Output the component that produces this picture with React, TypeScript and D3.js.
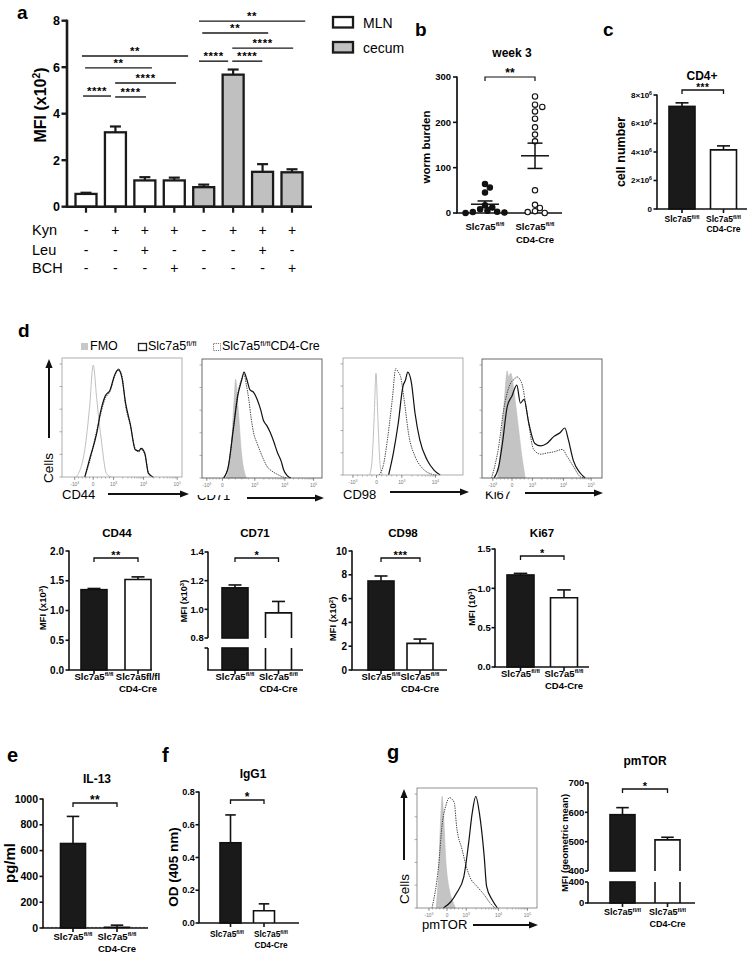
import React from 'react';
import * as d3 from 'd3';

const FONT = "Arial, 'Liberation Sans', Helvetica, sans-serif";

/* ---------------- panel a ---------------- */
const aTissue = ['MLN', 'MLN', 'MLN', 'MLN', 'cecum', 'cecum', 'cecum', 'cecum'];
const aMeans = [0.55, 3.2, 1.13, 1.13, 0.84, 5.68, 1.5, 1.48];
const aErrors = [0.05, 0.25, 0.14, 0.12, 0.11, 0.22, 0.33, 0.13];
const aKyn = ['-', '+', '+', '+', '-', '+', '+', '+'];
const aLeu = ['-', '-', '+', '-', '-', '-', '+', '-'];
const aBch = ['-', '-', '-', '+', '-', '-', '-', '+'];
const aTicks = [0, 2, 4, 6, 8];
const aSigFrom = [-0.1, 0.99, 0.99, -0.03, -0.14, 3.84, 4.97, 4.97, 3.95, 3.84];
const aSigTo = [0.85, 2.04, 3.06, 2.24, 3.47, 4.83, 5.99, 7.04, 6.19, 7.45];
const aSigLevel = [4.76, 4.72, 5.32, 5.97, 6.48, 6.26, 6.26, 6.82, 7.47, 7.98];
const aSigLabel = ['****', '****', '****', '**', '**', '****', '****', '****', '**', '**'];
const aLegend = ['MLN', 'cecum'];

/* ---------------- panel b ---------------- */
const bWT = [64, 56, 45, 17, 12, 8, 5, 3, 2, 1, 0];
const bKO = [257, 239, 234, 224, 208, 189, 173, 158, 50, 18, 11, 4, 2, 0];
const bTicks = [0, 100, 200, 300];

/* ---------------- panel c ---------------- */
const cMeans = [7.2, 4.15];
const cErrors = [0.25, 0.28];
const cTicks = [0, 2, 4, 6, 8];

/* ---------------- panel d bars ---------------- */
const cd44Means = [1.35, 1.52];
const cd44Errors = [0.02, 0.045];
const cd44Ticks = [0, 0.5, 1.0, 1.5, 2.0];
const cd71Means = [1.15, 0.975];
const cd71Errors = [0.02, 0.08];
const cd71Ticks = [0.8, 1.0, 1.2, 1.4];
const cd98Means = [7.48, 2.24];
const cd98Errors = [0.42, 0.36];
const cd98Ticks = [0, 2, 4, 6, 8, 10];
const ki67Means = [1.17, 0.88];
const ki67Errors = [0.02, 0.1];
const ki67Ticks = [0, 0.5, 1.0, 1.5];

/* ---------------- panels e, f, g ---------------- */
const eMeans = [655, 5];
const eErrors = [210, 17];
const eTicks = [0, 200, 400, 600, 800, 1000];
const eLimit = 5;
const fMeans = [0.49, 0.075];
const fErrors = [0.17, 0.042];
const fTicks = [0, 0.2, 0.4, 0.6, 0.8];
const gMeans = [592, 506];
const gErrors = [24, 9];
const gTicks = [400, 500, 600, 700];

/* ---------------- histograms: [channel, % of max] ---------------- */
const cd44FMO = [[12, 0], [19, 23], [23, 59], [26, 94], [29, 65], [33, 29], [37, 3], [41, 0]];
const cd44WT = [[19, 0], [23, 15], [29, 37], [32, 54], [36, 68], [40, 73], [44, 86], [47, 90], [50, 83], [53, 62], [57, 44], [61, 23], [64, 22], [66, 24], [69, 20], [72, 3], [76, 0]];
const cd44KO = [[19, 0], [23, 13], [28, 35], [32, 52], [36, 66], [40, 72], [44, 85], [47, 91], [50, 85], [53, 60], [57, 43], [61, 24], [64, 21], [66, 23], [69, 19], [72, 4], [76, 0]];
const cd44TickExp = [-3, 0, 3, 4, 5];
const cd44TickPos = [10.6, 26, 43, 68, 96];

const cd71FMO = [[20, 0], [24, 20], [27, 70], [28, 83], [30, 60], [33, 20], [37, 0]];
const cd71WT = [[18, 0], [22, 10], [26, 40], [30, 70], [33, 82], [35, 89], [37, 84], [40, 74], [43, 72], [46, 66], [49, 57], [51, 49], [54, 44], [57, 38], [60, 30], [63, 21], [66, 14], [68, 7], [71, 2], [74, 0]];
const cd71KO = [[18, 0], [22, 10], [26, 42], [30, 72], [33, 83], [35, 87], [37, 78], [39, 66], [41, 50], [43, 38], [46, 29], [49, 21], [52, 14], [54, 10], [58, 6], [63, 3], [67, 1], [71, 0]];
const cd71TickExp = [-3, 0, 3, 4, 5];
const cd71TickPos = [4, 17, 44, 69, 93];

const cd98FMO = [[22, 0], [24, 10], [26, 50], [27.5, 87], [29, 50], [31, 8], [33, 0]];
const cd98WT = [[38, 0], [42, 19], [46, 44], [50, 76], [52, 81], [54, 88], [57, 79], [60, 53], [64, 30], [70, 13], [76, 4], [81, 0]];
const cd98KO = [[30, 0], [34, 10], [37, 30], [41, 64], [44, 91], [46, 88], [48, 84], [51, 64], [55, 33], [60, 16], [66, 6], [73, 1], [78, 0]];
const cd98TickExp = [-3, 0, 3, 4];
const cd98TickPos = [8.3, 28, 49, 77];

const ki67FMO = [[13, 0], [16, 30], [19, 70], [21, 90], [22, 85], [24, 88], [27, 70], [30, 45], [33, 20], [36, 0]];
const ki67WT = [[10, 0], [14, 10], [17, 29], [21, 60], [25, 69], [29, 78], [32, 63], [35, 66], [39, 46], [44, 29], [49, 27], [54, 29], [60, 35], [65, 38], [69, 42], [72, 32], [76, 15], [82, 4], [86, 0]];
const ki67KO = [[8, 0], [14, 27], [18, 57], [24, 80], [27, 83], [29, 85], [33, 80], [38, 52], [43, 24], [49, 20], [54, 21], [60, 22], [67, 24], [71, 18], [76, 10], [82, 1], [85, 0]];
const ki67TickExp = [-3, 0, 3, 4, 5];
const ki67TickPos = [9, 25, 42, 68, 91];

const mtorFMO = [[16, 0], [18, 30], [20, 80], [21, 93], [22, 80], [24, 40], [27, 15], [30, 5], [32, 0]];
const mtorWT = [[22, 0], [28, 5], [33, 12.5], [39, 26], [43, 54], [46, 79], [49, 93], [52, 79], [56, 43], [58, 18], [62.5, 7], [67, 0]];
const mtorKO = [[12.5, 0], [18, 35], [21, 70], [24, 85], [27, 92], [31, 88], [33, 68], [37.5, 49], [41, 35], [44, 26], [50, 18], [56, 11], [61, 4], [65, 0]];
const mtorTickExp = [-3, 0, 3, 4, 5];
const mtorTickPos = [10, 25, 41, 68, 92];

/* ---------------- helpers ---------------- */
function Geno({ x, y, size, plain = false, cre = false, gap = 11 }: any) {
  return (
    <g>
      <text x={x} y={y} fontSize={size} fontWeight="bold" textAnchor="middle">
        {plain ? 'Slc7a5fl/fl' : (
          <>Slc7a5<tspan dy={-size * 0.38} fontSize={size * 0.62}>fl/fl</tspan></>
        )}
      </text>
      {cre && <text x={x} y={y + gap} fontSize={size} fontWeight="bold" textAnchor="middle">CD4-Cre</text>}
    </g>
  );
}

function Arrow({ x1, y1, x2, y2, w = 2, head = 9, hw = 3.6 }: any) {
  const dx = x2 - x1, dy = y2 - y1;
  const len = Math.hypot(dx, dy);
  const ux = dx / len, uy = dy / len;
  const bx = x2 - ux * head, by = y2 - uy * head;
  const px = -uy * hw, py = ux * hw;
  return (
    <g>
      <line x1={x1} y1={y1} x2={bx} y2={by} stroke="#111" strokeWidth={w} />
      <polygon points={`${x2},${y2} ${bx + px},${by + py} ${bx - px},${by - py}`} fill="#111" />
    </g>
  );
}

function RotLabel({ x, y, size, children, weight = 'bold' }: any) {
  return (
    <text transform={`translate(${x},${y}) rotate(-90)`} textAnchor="middle" fontSize={size} fontWeight={weight}>
      {children}
    </text>
  );
}

function TwoBar(p: any) {
  const y = d3.scaleLinear().domain(p.domain).range(p.range);
  const base = p.range[0];
  const bottom = p.brk ? p.brk.bottom : base;
  const sw = p.strokeW ?? 1.6;
  const capW = p.capW ?? p.barW * 0.25;
  const tl = p.tickLen ?? 3.5;
  const lx = p.axisX - tl - (p.tickGap ?? 1.5);
  const [c0, c1] = p.centers;
  const labX = p.labelX ?? p.centers;
  return (
    <g>
      {p.limit !== undefined && (
        <line x1={p.axisX} x2={p.xEnd} y1={y(p.limit)} y2={y(p.limit)} stroke="#999" strokeWidth={0.8} strokeDasharray="2,2" />
      )}
      {p.means.map((m: number, i: number) => {
        const c = p.centers[i];
        const x0 = c - p.barW / 2;
        const top = y(m);
        const filled = p.fills[i] !== 'white';
        const segs: number[][] = [[top, base]];
        if (p.brk) segs.push([p.brk.top, p.brk.bottom]);
        const et = y(m + p.errors[i]);
        return (
          <g key={i}>
            {segs.map(([t, b], k) =>
              filled ? (
                <rect key={k} x={x0} y={t} width={p.barW} height={b - t} fill={p.fills[i]} stroke="#111" strokeWidth={sw} />
              ) : (
                <path key={k} d={k === 0 ? `M${x0},${b}V${t}H${x0 + p.barW}V${b}` : `M${x0},${t}V${b}M${x0 + p.barW},${t}V${b}`} fill="white" stroke="#111" strokeWidth={sw} />
              )
            )}
            <line x1={c} x2={c} y1={top} y2={et} stroke="#111" strokeWidth={sw} />
            <line x1={c - capW} x2={c + capW} y1={et} y2={et} stroke="#111" strokeWidth={sw} />
            <line x1={c} x2={c} y1={bottom} y2={bottom + 4} stroke="#111" strokeWidth={sw} />
          </g>
        );
      })}
      {/* y axis */}
      <line x1={p.axisX} x2={p.axisX} y1={p.range[1] - 0.5} y2={base} stroke="#111" strokeWidth={sw} />
      {p.brk && <line x1={p.axisX} x2={p.axisX} y1={p.brk.top} y2={p.brk.bottom} stroke="#111" strokeWidth={sw} />}
      {p.ticks.map((t: number) => (
        <g key={t}>
          <line x1={p.axisX - tl} x2={p.axisX} y1={y(t)} y2={y(t)} stroke="#111" strokeWidth={sw} />
          <text x={lx} y={y(t)} dy="0.35em" textAnchor="end" fontSize={p.tickFont} fontWeight="bold">{p.fmt(t)}</text>
        </g>
      ))}
      {p.brk && (
        <g>
          <line x1={p.axisX - tl} x2={p.axisX} y1={p.brk.top} y2={p.brk.top} stroke="#111" strokeWidth={sw} />
          {p.brk.labelTop && <text x={lx} y={p.brk.top} dy="0.35em" textAnchor="end" fontSize={p.tickFont} fontWeight="bold">{p.brk.labelTop}</text>}
          {p.brk.labelBottom && (
            <g>
              <line x1={p.axisX - tl} x2={p.axisX} y1={p.brk.bottom} y2={p.brk.bottom} stroke="#111" strokeWidth={sw} />
              <text x={lx} y={p.brk.bottom} dy="0.35em" textAnchor="end" fontSize={p.tickFont} fontWeight="bold">{p.brk.labelBottom}</text>
            </g>
          )}
        </g>
      )}
      {/* x axis */}
      <line x1={p.axisX - 0.8} x2={p.xEnd} y1={bottom} y2={bottom} stroke="#111" strokeWidth={sw} />
      {/* bracket */}
      <path d={`M${c0},${p.bracketY + 4}V${p.bracketY}H${c1}V${p.bracketY + 4}`} fill="none" stroke="#111" strokeWidth={1.3} />
      <text x={(c0 + c1) / 2} y={p.bracketY + 1} textAnchor="middle" fontSize={p.starSize ?? 11} fontWeight="bold" letterSpacing={0.4}>{p.stars}</text>
      {/* title */}
      <text x={p.titleX} y={p.titleY} textAnchor="middle" fontSize={p.titleSize ?? 11.5} fontWeight="bold">{p.title}</text>
      <RotLabel x={p.ylabelX} y={p.ylabelY} size={p.ylabelSize}>{p.ylabel}</RotLabel>
      <Geno x={labX[0]} y={p.labelY} size={p.labelSize} />
      <Geno x={labX[1]} y={p.labelY} size={p.labelSize} plain={p.secondPlain} cre gap={p.labelGap} />
    </g>
  );
}

function fmtExp(v: number) {
  if (v === 0) return '0';
  return (
    <>{v < 0 ? '-' : ''}10<tspan dy={-1.8} fontSize="70%">{Math.abs(v)}</tspan></>
  );
}

function Histogram({ x, y, w, h, fmo, fmoFilled, wt, ko, tickExp, tickPos, frame = '#777' }: any) {
  const xs = d3.scaleLinear().domain([0, 100]).range([x, x + w]);
  const ys = d3.scaleLinear().domain([0, 100]).range([y + h, y]);
  const line = d3.line<any>().x((d) => xs(d[0])).y((d) => ys(d[1])).curve(d3.curveMonotoneX);
  const area = d3.area<any>().x((d) => xs(d[0])).y0(ys(0)).y1((d) => ys(d[1])).curve(d3.curveMonotoneX);
  const minor: number[] = [];
  for (let i = 0; i < tickPos.length - 1; i++) {
    const a = tickPos[i], b = tickPos[i + 1];
    if (tickExp[i] > 0 && tickExp[i + 1] > 0) {
      for (let k = 2; k < 10; k++) minor.push(a + Math.log10(k) * (b - a));
    } else {
      for (let k = 1; k < 5; k++) minor.push(a + (k / 5) * (b - a));
    }
  }
  const leftTicks = d3.range(0, 100, 19);
  return (
    <g>
      {fmoFilled ? (
        <path d={area(fmo) as string} fill="#c4c4c4" stroke="#bbb" strokeWidth={0.6} />
      ) : (
        <path d={line(fmo) as string} fill="none" stroke="#b8b8b8" strokeWidth={0.9} />
      )}
      <path d={line(ko) as string} fill="none" stroke="#333" strokeWidth={0.9} strokeDasharray="1.4,1" />
      <path d={line(wt) as string} fill="none" stroke="#111" strokeWidth={1.2} />
      <rect x={x} y={y} width={w} height={h} fill="none" stroke={frame} strokeWidth={0.8} />
      {leftTicks.map((t) => (
        <line key={t} x1={x - 2.5} x2={x} y1={ys(t)} y2={ys(t)} stroke="#777" strokeWidth={0.6} />
      ))}
      {minor.map((m, i) => (
        <line key={'m' + i} x1={xs(m)} x2={xs(m)} y1={y + h} y2={y + h + 1.6} stroke="#777" strokeWidth={0.5} />
      ))}
      {tickPos.map((t: number, i: number) => (
        <g key={'t' + i}>
          <line x1={xs(t)} x2={xs(t)} y1={y + h} y2={y + h + 2.8} stroke="#555" strokeWidth={0.7} />
          <text x={xs(t)} y={y + h + 9} fontSize={4.8} fill="#777" textAnchor="middle">{fmtExp(tickExp[i])}</text>
        </g>
      ))}
    </g>
  );
}

/* ---------------- panels ---------------- */
function PanelA() {
  const x = d3.scaleLinear().domain([0, 7]).range([86, 292]);
  const y = d3.scaleLinear().domain([0, 8]).range([206.7, 20.7]);
  const barW = 21;
  const fill = (t: string) => (t === 'MLN' ? '#ffffff' : '#c0c0c0');
  const rows: [string, string[], number][] = [['Kyn', aKyn, 235], ['Leu', aLeu, 255], ['BCH', aBch, 273]];
  return (
    <g>
      <text x={17} y={19} fontSize={19} fontWeight="bold">a</text>
      {aMeans.map((m, i) => {
        const et = y(m + aErrors[i]);
        return (
          <g key={i}>
            <rect x={x(i) - barW / 2} y={y(m)} width={barW} height={y(0) - y(m)} fill={fill(aTissue[i])} stroke="#1a1a1a" strokeWidth={2.3} />
            <line x1={x(i)} x2={x(i)} y1={y(m)} y2={et} stroke="#1a1a1a" strokeWidth={2.2} />
            <line x1={x(i) - 5.5} x2={x(i) + 5.5} y1={et} y2={et} stroke="#1a1a1a" strokeWidth={2.2} />
            <line x1={x(i)} x2={x(i)} y1={y(0)} y2={y(0) + 6} stroke="#1a1a1a" strokeWidth={2.2} />
          </g>
        );
      })}
      <line x1={67} x2={67} y1={y(8) - 1} y2={y(0)} stroke="#1a1a1a" strokeWidth={2.6} />
      <line x1={65.8} x2={312} y1={y(0)} y2={y(0)} stroke="#1a1a1a" strokeWidth={2.6} />
      {aTicks.map((t) => (
        <g key={t}>
          <line x1={61.5} x2={67} y1={y(t)} y2={y(t)} stroke="#1a1a1a" strokeWidth={2.4} />
          <text x={60} y={y(t)} dy="0.36em" textAnchor="end" fontSize={12.5} fontWeight="bold">{t}</text>
        </g>
      ))}
      <RotLabel x={46} y={105} size={16}>
        <>MFI (x10<tspan dy={-6} fontSize="65%">2</tspan><tspan dy={6}>)</tspan></>
      </RotLabel>
      {aSigLabel.map((s, i) => {
        const yy = y(aSigLevel[i]);
        return (
          <g key={i}>
            <line x1={x(aSigFrom[i])} x2={x(aSigTo[i])} y1={yy} y2={yy} stroke="#1a1a1a" strokeWidth={1.4} />
            <text x={(x(aSigFrom[i]) + x(aSigTo[i])) / 2} y={yy - 1} textAnchor="middle" fontSize={11.5} fontWeight="bold" letterSpacing={0.6}>{s}</text>
          </g>
        );
      })}
      {rows.map(([name, vals, yy]) => (
        <g key={name}>
          <text x={32} y={yy} fontSize={14.5}>{name}</text>
          {vals.map((v, i) => (
            <text key={i} x={x(i)} y={yy} fontSize={14} textAnchor="middle">{v}</text>
          ))}
        </g>
      ))}
      {aLegend.map((l, i) => (
        <g key={l}>
          <rect x={333} y={17 + i * 25} width={20} height={10.5} fill={fill(l)} stroke="#1a1a1a" strokeWidth={2.3} />
          <text x={363} y={27.5 + i * 25} fontSize={14}>{l}</text>
        </g>
      ))}
    </g>
  );
}

function beeswarm(values: number[], ys: (v: number) => number, r: number) {
  const placed: number[][] = [];
  return values.map((v) => {
    const py = ys(v);
    let off = 0;
    for (let k = 0; k < 60; k++) {
      const cand = k === 0 ? 0 : (k % 2 === 1 ? 1 : -1) * Math.ceil(k / 2) * r * 0.9;
      if (placed.every((p) => Math.hypot(p[0] - cand, p[1] - py) >= 2 * r + 0.3)) {
        off = cand;
        break;
      }
    }
    placed.push([off, py]);
    return off;
  });
}

function PanelB() {
  const y = d3.scaleLinear().domain([0, 300]).range([213, 77]);
  const groups = [bWT, bKO];
  const centers = [485, 535];
  const r = 2.7;
  return (
    <g>
      <text x={415} y={36} fontSize={19} fontWeight="bold">b</text>
      <text x={512} y={57} fontSize={12} fontWeight="bold" textAnchor="middle">week 3</text>
      <line x1={457} x2={457} y1={y(300) - 0.5} y2={y(0)} stroke="#111" strokeWidth={1.7} />
      <line x1={456} x2={562} y1={y(0)} y2={y(0)} stroke="#111" strokeWidth={1.7} />
      {bTicks.map((t) => (
        <g key={t}>
          <line x1={453} x2={457} y1={y(t)} y2={y(t)} stroke="#111" strokeWidth={1.6} />
          <text x={451} y={y(t)} dy="0.35em" textAnchor="end" fontSize={9.5} fontWeight="bold">{t}</text>
        </g>
      ))}
      <RotLabel x={430} y={147} size={11.5}>worm burden</RotLabel>
      {groups.map((vals, gi) => {
        const offs = beeswarm(vals, y, r);
        const mean = d3.mean(vals) as number;
        const sem = (d3.deviation(vals) as number) / Math.sqrt(vals.length);
        const c = centers[gi];
        return (
          <g key={gi}>
            {vals.map((v, i) => (
              <circle key={i} cx={c + offs[i]} cy={y(v)} r={r} fill={gi === 0 ? '#111' : 'white'} stroke="#111" strokeWidth={1.1} />
            ))}
            <line x1={c - 14} x2={c + 14} y1={y(mean)} y2={y(mean)} stroke="#111" strokeWidth={1.5} />
            <line x1={c} x2={c} y1={y(mean - sem)} y2={y(mean + sem)} stroke="#111" strokeWidth={1.5} />
            <line x1={c - 7.5} x2={c + 7.5} y1={y(mean - sem)} y2={y(mean - sem)} stroke="#111" strokeWidth={1.5} />
            <line x1={c - 7.5} x2={c + 7.5} y1={y(mean + sem)} y2={y(mean + sem)} stroke="#111" strokeWidth={1.5} />
          </g>
        );
      })}
      <path d={`M${centers[0]},81V77H${centers[1]}V81`} fill="none" stroke="#111" strokeWidth={1.2} />
      <text x={(centers[0] + centers[1]) / 2} y={77} textAnchor="middle" fontSize={12} fontWeight="bold">**</text>
      <Geno x={centers[0]} y={230} size={9.5} />
      <Geno x={centers[1]} y={230} size={9.5} cre gap={12.5} />
    </g>
  );
}

function fmtSci(t: number) {
  if (t === 0) return '0';
  return <>{t}×10<tspan dy={-3} fontSize="65%">6</tspan></>;
}

export default function App() {
  const fmt1 = (v: number) => d3.format('.1f')(v);
  const fmt0 = (v: number) => String(v);
  const mfi = (e: string, x = true) => (
    <>MFI  ({x ? 'x' : ''}10<tspan dy={-3.5} fontSize="65%">{e}</tspan><tspan dy={3.5}>)</tspan></>
  );
  return (
    <svg width={750} height={959} style={{ position: 'absolute', left: 0, top: 0 }} fontFamily={FONT}>
      <defs>
        <clipPath id="clipCD71"><rect x={190} y={495} width={60} height={12} /></clipPath>
        <clipPath id="clipKi67"><rect x={478} y={491.5} width={50} height={12} /></clipPath>
      </defs>
      <rect width={750} height={959} fill="white" />
      <PanelA />
      <PanelB />

      {/* panel c */}
      <text x={603} y={36} fontSize={19} fontWeight="bold">c</text>
      <TwoBar axisX={657} xEnd={747} centers={[682, 723.5]} barW={26}
        domain={[0, 8]} range={[209, 95]} ticks={cTicks} fmt={fmtSci} tickFont={8}
        means={cMeans} errors={cErrors} fills={['#1a1a1a', 'white']}
        title="CD4+" titleX={702} titleY={80} titleSize={12}
        ylabel="cell number" ylabelX={625} ylabelY={152} ylabelSize={12.5}
        bracketY={90} stars="***" starSize={10} labelY={222} labelGap={10} labelSize={8.5} />

      {/* panel d: histograms */}
      <text x={18} y={337} fontSize={19} fontWeight="bold">d</text>
      <rect x={81} y={343} width={7} height={7} fill="#c8c8c8" />
      <text x={90} y={350} fontSize={12.5}>FMO</text>
      <rect x={138.5} y={343.5} width={8} height={7} fill="none" stroke="#222" strokeWidth={1.3} />
      <text x={148} y={350} fontSize={12.5}>Slc7a5<tspan dy={-4} fontSize={8}>fl/fl</tspan></text>
      <rect x={213.5} y={343.5} width={7} height={7} fill="none" stroke="#666" strokeWidth={0.9} strokeDasharray="1.2,1" />
      <text x={222} y={350} fontSize={12.5}>Slc7a5<tspan dy={-4} fontSize={8}>fl/fl</tspan><tspan dy={4}>CD4-Cre</tspan></text>

      <Histogram x={62} y={358} w={120} h={119} fmo={cd44FMO} fmoFilled={false} wt={cd44WT} ko={cd44KO} tickExp={cd44TickExp} tickPos={cd44TickPos} frame="#999" />
      <Histogram x={202} y={359} w={120} h={119} fmo={cd71FMO} fmoFilled wt={cd71WT} ko={cd71KO} tickExp={cd71TickExp} tickPos={cd71TickPos} frame="#444" />
      <Histogram x={343} y={358} w={120} h={117} fmo={cd98FMO} fmoFilled={false} wt={cd98WT} ko={cd98KO} tickExp={cd98TickExp} tickPos={cd98TickPos} frame="#999" />
      <Histogram x={482} y={359} w={120} h={119} fmo={ki67FMO} fmoFilled wt={ki67WT} ko={ki67KO} tickExp={ki67TickExp} tickPos={ki67TickPos} frame="#444" />

      <Arrow x1={49} y1={438} x2={49} y2={359} />
      <RotLabel x={53} y={468} size={13.5} weight="normal">Cells</RotLabel>
      <text x={62} y={499} fontSize={13}>CD44</text>
      <Arrow x1={108} y1={494} x2={189} y2={494} />
      <text x={197} y={500} fontSize={13} clipPath="url(#clipCD71)">CD71</text>
      <Arrow x1={247} y1={498} x2={324} y2={498} />
      <text x={343} y={499} fontSize={13}>CD98</text>
      <Arrow x1={390} y1={492} x2={469} y2={492} />
      <text x={485} y={499} fontSize={13} clipPath="url(#clipKi67)">Ki67</text>
      <Arrow x1={525} y1={493} x2={603} y2={493} />

      {/* panel d: bars */}
      <TwoBar axisX={69} xEnd={152} centers={[94, 138]} barW={26}
        domain={[0, 2]} range={[670, 551]} ticks={cd44Ticks} fmt={fmt1} tickFont={10}
        means={cd44Means} errors={cd44Errors} fills={['#1a1a1a', 'white']}
        title="CD44" titleX={117} titleY={537}
        ylabel={mfi('3')} ylabelX={46} ylabelY={608} ylabelSize={9.5}
        bracketY={558} stars="**" labelY={680} labelGap={12} labelSize={9.5} secondPlain />
      <TwoBar axisX={208} xEnd={303} centers={[235, 278.5]} barW={26}
        domain={[0.8, 1.4]} range={[638, 552]} ticks={cd71Ticks} fmt={fmt1} tickFont={9.5} tickGap={0.8}
        means={cd71Means} errors={cd71Errors} fills={['#1a1a1a', 'white']}
        brk={{ top: 648, bottom: 670 }}
        title="CD71" titleX={255} titleY={537}
        ylabel={mfi('3')} ylabelX={187} ylabelY={601} ylabelSize={9}
        bracketY={558} stars="*" labelY={680} labelGap={12} labelSize={9.5} />
      <TwoBar axisX={352} xEnd={447} centers={[381, 420]} barW={26}
        domain={[0, 10]} range={[670, 551]} ticks={cd98Ticks} fmt={fmt0} tickFont={10}
        means={cd98Means} errors={cd98Errors} fills={['#1a1a1a', 'white']}
        title="CD98" titleX={403} titleY={537}
        ylabel={mfi('2')} ylabelX={336} ylabelY={619} ylabelSize={9.5}
        bracketY={558} stars="***" labelY={680} labelGap={12} labelSize={9.5} />
      <TwoBar axisX={495} xEnd={589} centers={[520.5, 564]} barW={27}
        domain={[0, 1.5]} range={[667, 549]} ticks={ki67Ticks} fmt={fmt1} tickFont={9.5} tickGap={0.8}
        means={ki67Means} errors={ki67Errors} fills={['#1a1a1a', 'white']}
        title="Ki67" titleX={542} titleY={537}
        ylabel={mfi('3', false)} ylabelX={475} ylabelY={607} ylabelSize={9}
        bracketY={556} stars="*" labelY={677} labelGap={12} labelSize={9.5} />

      {/* panel e */}
      <text x={7} y={762} fontSize={20} fontWeight="bold">e</text>
      <TwoBar axisX={43} xEnd={148} centers={[73, 117]} barW={25}
        domain={[0, 1000]} range={[928, 799]} ticks={eTicks} fmt={fmt0} tickFont={10.5}
        means={eMeans} errors={eErrors} fills={['#1a1a1a', 'white']} limit={eLimit}
        title="IL-13" titleX={97} titleY={783} titleSize={12}
        ylabel="pg/ml" ylabelX={15} ylabelY={863} ylabelSize={15}
        bracketY={803} stars="**" starSize={12} labelY={940} labelGap={11.5} labelSize={9.5} />

      {/* panel f */}
      <text x={162} y={762} fontSize={20} fontWeight="bold">f</text>
      <TwoBar axisX={199} xEnd={299} centers={[230.5, 264]} barW={21}
        domain={[0, 0.8]} range={[923, 792]} ticks={fTicks} fmt={fmt1} tickFont={9} tickGap={0.8}
        means={fMeans} errors={fErrors} fills={['#1a1a1a', 'white']}
        title="IgG1" titleX={253} titleY={778} titleSize={12}
        ylabel="OD (405 nm)" ylabelX={178} ylabelY={867} ylabelSize={13.5}
        bracketY={800} stars="*" starSize={12} labelY={937} labelGap={11} labelSize={8.3} labelX={[227, 271]} />

      {/* panel g */}
      <text x={387} y={759} fontSize={20} fontWeight="bold">g</text>
      <Histogram x={417} y={788} w={120} h={120} fmo={mtorFMO} fmoFilled wt={mtorWT} ko={mtorKO} tickExp={mtorTickExp} tickPos={mtorTickPos} frame="#777" />
      <Arrow x1={404} y1={860} x2={404} y2={789} />
      <RotLabel x={409} y={889} size={13.5} weight="normal">Cells</RotLabel>
      <text x={422} y={929} fontSize={13}>pmTOR</text>
      <Arrow x1={473} y1={925} x2={538} y2={925} />
      <TwoBar axisX={588} xEnd={695} centers={[622.5, 667.5]} barW={25}
        domain={[400, 700]} range={[871, 783]} ticks={gTicks} fmt={fmt0} tickFont={9.5} tickLen={3} tickGap={0.6}
        means={gMeans} errors={gErrors} fills={['#1a1a1a', 'white']}
        brk={{ top: 882, bottom: 903, labelTop: '400', labelBottom: '0' }}
        title="pmTOR" titleX={645} titleY={765} titleSize={12}
        ylabel="MFI (geometric mean)" ylabelX={568} ylabelY={843} ylabelSize={9.5}
        bracketY={789} stars="*" labelY={915} labelGap={12} labelSize={9} />
    </svg>
  );
}
